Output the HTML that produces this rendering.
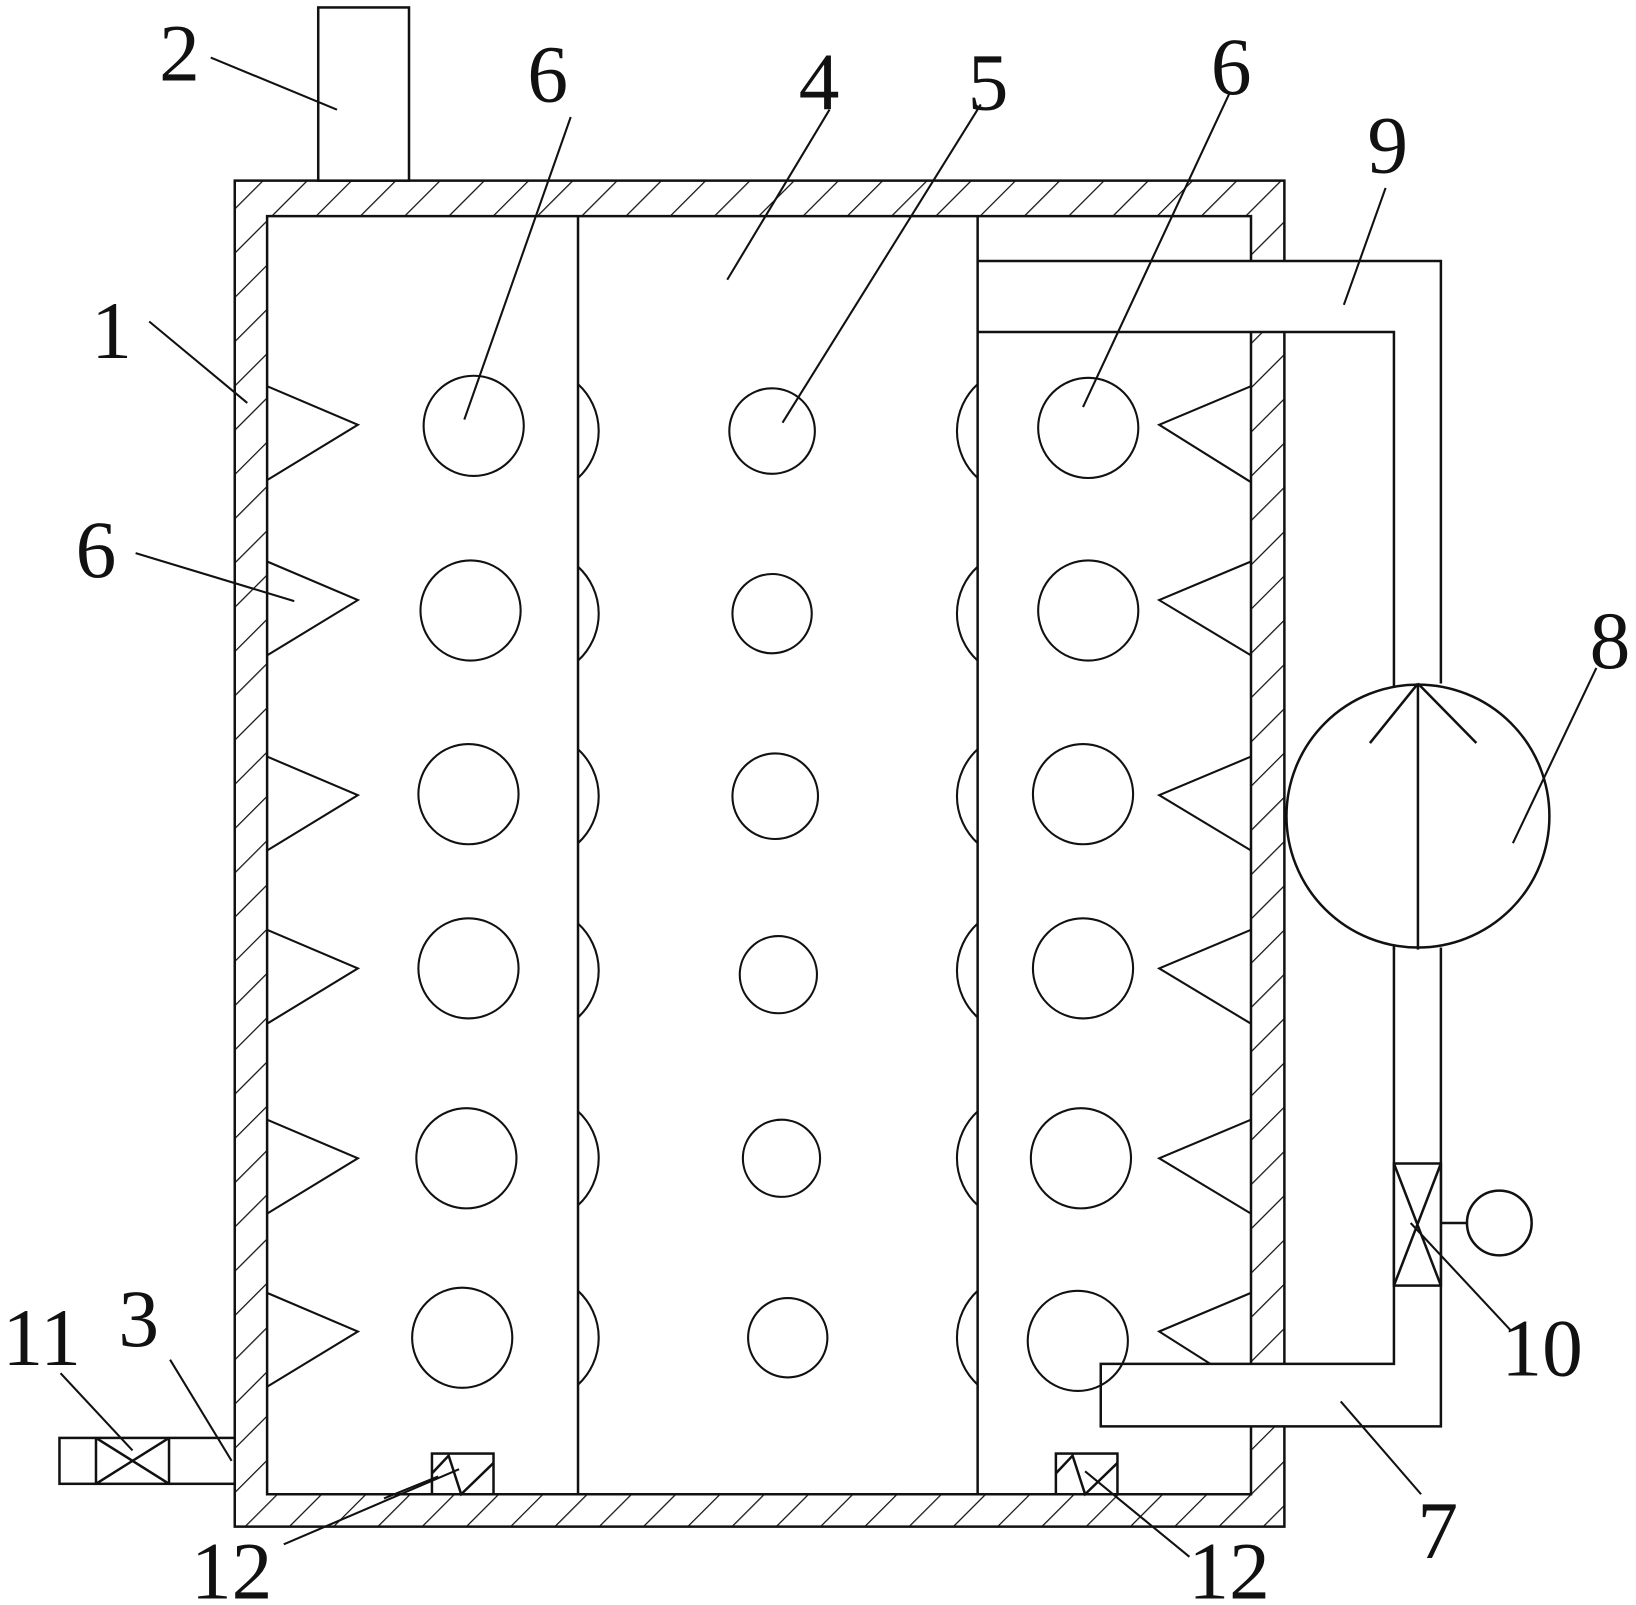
<!DOCTYPE html>
<html><head><meta charset="utf-8"><style>html,body{margin:0;padding:0;background:#fff}svg{display:block}</style></head>
<body>
<svg width="1636" height="1605" viewBox="0 0 1568 1538" xmlns="http://www.w3.org/2000/svg">
<defs>
<pattern id="h" patternUnits="userSpaceOnUse" width="30" height="30" patternTransform="rotate(45)">
<line x1="0" y1="0" x2="0" y2="30" stroke="#111" stroke-width="2.4"/>
</pattern>
</defs>
<rect width="1568" height="1538" fill="#fff"/>
<g stroke="#111" stroke-width="2.4" fill="none">
<!-- hatched walls -->
<path d="M225 173 H1231 V250 H1199 V207 H256 V1432 H1199 V1367 H1231 V1463 H225 Z" fill="url(#h)" stroke="none"/>
<path d="M1199 318 H1231 V1307 H1199 Z" fill="url(#h)" stroke="none"/>
<path d="M1231 250 V173 H225 V1463 H1231 V1367"/>
<line x1="1231" y1="318" x2="1231" y2="1307"/>
<path d="M1199 250 V207 H256 V1432 H1199 V1367 M1199 318 V1307"/>
<!-- top pipe 2 -->
<rect x="305" y="7" width="87" height="166" fill="#fff"/>
<!-- dividers -->
<line x1="554" y1="207" x2="554" y2="1432"/>
<line x1="937" y1="207" x2="937" y2="1432"/>
<!-- pipe 9 -->
<path d="M937 250 H1381 V655 M937 318 H1336 V910"/>
<!-- pump 8 -->
<circle cx="1359" cy="782" r="126" fill="#fff"/>
<path d="M1359 655 V910 M1359 655 L1313 712 M1359 655 L1415 712"/>
<!-- lower pipes -->
<path d="M1381 908 V1367 H1055 V1307 H1336 V908"/>
<rect x="1336" y="1115" width="45" height="117" fill="#fff"/>
<path d="M1336 1115 L1381 1232 M1381 1115 L1336 1232"/>
<line x1="1381" y1="1172" x2="1406" y2="1172"/>
<circle cx="1437" cy="1172" r="31"/>
<!-- outlet 3 / valve 11 -->
<rect x="57" y="1378" width="168" height="44" fill="#fff"/>
<line x1="92" y1="1378" x2="92" y2="1422"/>
<line x1="162" y1="1378" x2="162" y2="1422"/>
<path d="M92 1378 L162 1422 M162 1378 L92 1422"/>
<!-- boxes 12 -->
<rect x="414" y="1393" width="59" height="39" fill="#fff"/>
<path d="M414 1412 L430 1395 L442 1432 L473 1402"/>
<rect x="1012" y="1393" width="59" height="39" fill="#fff"/>
<path d="M1012 1412 L1028 1395 L1040 1432 L1071 1402"/>
<!-- triangles -->
<g stroke-width="2">
<path d="M256 370 L343 407 L256 460"/>
<path d="M256 538 L343 575 L256 628"/>
<path d="M256 725 L343 762 L256 815"/>
<path d="M256 891 L343 928 L256 981"/>
<path d="M256 1073 L343 1110 L256 1163"/>
<path d="M256 1239 L343 1276 L256 1329"/>
<path d="M1199 370 L1111 407 L1199 462"/>
<path d="M1199 538 L1111 575 L1199 628"/>
<path d="M1199 725 L1111 762 L1199 815"/>
<path d="M1199 891 L1111 928 L1199 981"/>
<path d="M1199 1073 L1111 1110 L1199 1163"/>
<path d="M1199 1239 L1111 1276 L1160 1307"/>
</g>
<!-- circles -->
<g stroke-width="2">
<circle cx="454" cy="408" r="48"/><circle cx="451" cy="585" r="48"/><circle cx="449" cy="761" r="48"/>
<circle cx="449" cy="928" r="48"/><circle cx="447" cy="1110" r="48"/><circle cx="443" cy="1282" r="48"/>
<circle cx="740" cy="413" r="41"/><circle cx="740" cy="588" r="38"/><circle cx="743" cy="763" r="41"/>
<circle cx="746" cy="934" r="37"/><circle cx="749" cy="1110" r="37"/><circle cx="755" cy="1282" r="38"/>
<circle cx="1043" cy="410" r="48"/><circle cx="1043" cy="585" r="48"/><circle cx="1038" cy="761" r="48"/>
<circle cx="1038" cy="928" r="48"/><circle cx="1036" cy="1110" r="48"/><circle cx="1033" cy="1285" r="48"/>
<!-- half arcs -->
<path d="M554 368 A61 61 0 0 1 554 458"/><path d="M554 543 A61 61 0 0 1 554 633"/>
<path d="M554 718 A61 61 0 0 1 554 808"/><path d="M554 885 A61 61 0 0 1 554 975"/>
<path d="M554 1065 A61 61 0 0 1 554 1155"/><path d="M554 1237 A61 61 0 0 1 554 1327"/>
<path d="M937 368 A61 61 0 0 0 937 458"/><path d="M937 543 A61 61 0 0 0 937 633"/>
<path d="M937 718 A61 61 0 0 0 937 808"/><path d="M937 885 A61 61 0 0 0 937 975"/>
<path d="M937 1065 A61 61 0 0 0 937 1155"/><path d="M937 1237 A61 61 0 0 0 937 1327"/>
</g>
<!-- leader lines -->
<g stroke-width="2">
<line x1="202" y1="55" x2="323" y2="105"/>
<line x1="547" y1="112" x2="445" y2="402"/>
<line x1="697" y1="268" x2="795" y2="105"/>
<line x1="940" y1="100" x2="750" y2="405"/>
<line x1="1178" y1="90" x2="1038" y2="390"/>
<line x1="1288" y1="292" x2="1328" y2="180"/>
<line x1="143" y1="308" x2="237" y2="386"/>
<line x1="130" y1="530" x2="282" y2="576"/>
<line x1="1450" y1="808" x2="1530" y2="640"/>
<line x1="58" y1="1316" x2="127" y2="1390"/>
<line x1="163" y1="1303" x2="222" y2="1400"/>
<line x1="1352" y1="1172" x2="1448" y2="1275"/>
<line x1="1285" y1="1343" x2="1362" y2="1432"/>
<line x1="272" y1="1480" x2="440" y2="1408"/>
<line x1="368" y1="1436" x2="420" y2="1415"/>
<line x1="1140" y1="1492" x2="1040" y2="1410"/>
</g>
</g>
<g font-family="Liberation Serif, serif" font-size="78" fill="#111" text-anchor="middle">
<text x="172" y="77">2</text>
<text x="525" y="97">6</text>
<text x="785" y="105">4</text>
<text x="947" y="105">5</text>
<text x="1180" y="90">6</text>
<text x="1330" y="165">9</text>
<text x="107" y="343">1</text>
<text x="92" y="553">6</text>
<text x="1543" y="640">8</text>
<text x="40" y="1308">11</text>
<text x="133" y="1290">3</text>
<text x="1478" y="1318">10</text>
<text x="1378" y="1493">7</text>
<text x="222" y="1532">12</text>
<text x="1178" y="1532">12</text>
</g>
</svg>
</body></html>
